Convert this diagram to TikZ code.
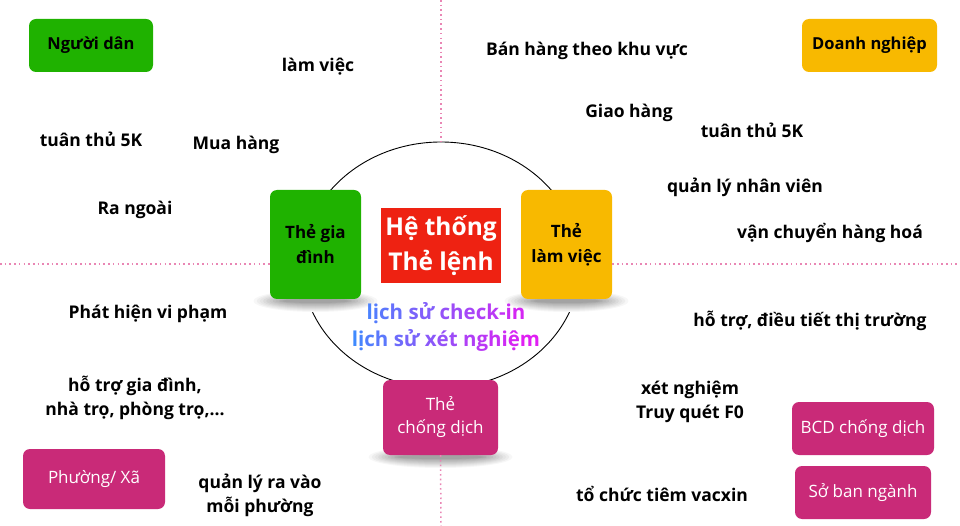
\documentclass[tikz,border=0pt]{standalone}
\usepackage{fontspec}
\setmainfont{Open Sans}
\usetikzlibrary{shapes.geometric}
\definecolor{cgreen}{HTML}{1FB200}
\definecolor{camber}{HTML}{F8B900}
\definecolor{cred}{HTML}{EE2212}
\definecolor{cmag}{HTML}{C92A78}
\definecolor{cpink}{HTML}{E986B4}
\definecolor{gb}{HTML}{3A8DFF}
\definecolor{gm}{HTML}{E51CF2}
\newcommand{\gch}[2]{\textcolor{gm!#1!gb}{#2}}
\newcommand{\softshadow}[3]{% center x, bottom y, half width
  \foreach \i in {10,...,1}{
    \pgfmathsetmacro{\sh}{int(3.6*(11-\i))}
    \fill[black!\sh] (#1,{#2+2}) ellipse ({#3+3.2*\i} and {1+1.0*\i});
  }}
\tikzset{
  card/.style={rounded corners=7pt, inner sep=0pt, align=center, text=black,
    font=\bfseries\fontsize{16.5}{25}\selectfont},
  wcard/.style={card, fill=cmag, text=white, font=\fontsize{17}{23}\selectfont},
  lbl/.style={inner sep=0pt, align=center, text=black,
    font=\bfseries\fontsize{17.5}{24}\selectfont},
  sep/.style={cpink, line width=1.5pt, dash pattern=on 1.6pt off 3.1pt}
}
\begin{document}
\begin{tikzpicture}[x=1pt,y=-1pt]
\useasboundingbox (0,0) rectangle (960,526);
% separators
\coordinate (vt) at (441,0);
\coordinate (vb) at (441,526);
\coordinate (hl) at (0,264);
\coordinate (hr) at (960,264);
% ring
\node[draw=black, line width=0.9pt, ellipse, minimum width=278pt, minimum height=246pt, inner sep=0pt] (ring) at (441,265) {};
\draw[sep] (vt) -- (ring.north);
% shadows
\softshadow{315.5}{299}{30}
\softshadow{566.5}{299}{30}
\softshadow{440.5}{455}{40}
% cards
\node[card, fill=cgreen, minimum width=124pt, minimum height=53pt] (dan) at (91,45.5) {Người dân};
\node[card, fill=camber, minimum width=135pt, minimum height=53pt] (dn) at (869.5,45.5) {Doanh nghiệp};
\node[card, fill=cgreen, minimum width=91pt, minimum height=109pt, font=\bfseries\fontsize{17}{25}\selectfont] (gd) at (315.5,244.5) {Thẻ gia\\đình};
\node[card, fill=camber, minimum width=91pt, minimum height=109pt, font=\bfseries\fontsize{17}{25}\selectfont] (lv) at (566.5,244.5) {Thẻ\\làm việc};
\node[fill=cred, inner sep=0pt, minimum width=120pt, minimum height=75pt, align=center, text=white,
  font=\bfseries\fontsize{24.5}{35}\selectfont] (ht) at (441,245.5) {Hệ thống\\Thẻ lệnh};
\node[wcard, minimum width=115pt, minimum height=75pt] (cd) at (440.5,417.5) {Thẻ\\chống dịch};
\node[wcard, minimum width=142pt, minimum height=60pt] (px) at (94,479) {Phường/ Xã};
\node[wcard, minimum width=142pt, minimum height=53pt] (bcd) at (863,428.5) {BCD chống dịch};
\node[wcard, minimum width=136pt, minimum height=53pt] (so) at (863,492.5) {Sở ban ngành};
% separators touching cards
\draw[sep] (cd.south) -- (vb);
\draw[sep] (hl) -- (gd.west |- hl);
\draw[sep] (lv.east |- hr) -- (hr);
% labels
\node[lbl] (t1) at (318,67) {làm việc};
\node[lbl] (t2) at (91,139) {tuân thủ 5K};
\node[lbl] (t3) at (236,145) {Mua hàng};
\node[lbl] (t4) at (135,210) {Ra ngoài};
\node[lbl] (t5) at (587,51) {Bán hàng theo khu vực};
\node[lbl] (t6) at (629,113) {Giao hàng};
\node[lbl] (t7) at (752,130) {tuân thủ 5K};
\node[lbl] (t8) at (745,187) {quản lý nhân viên};
\node[lbl] (t9) at (830,233) {vận chuyển hàng hoá};
\node[lbl] (t10) at (148,314) {Phát hiện vi phạm};
\node[lbl] (t11) at (135,398) {hỗ trợ gia đình,\\nhà trọ, phòng trọ,...};
\node[lbl] (t12) at (260,495) {quản lý ra vào\\mỗi phường};
\node[lbl] (t13) at (810,321) {hỗ trợ, điều tiết thị trường};
\node[lbl] (t14) at (690,402) {xét nghiệm\\Truy quét F0};
\node[lbl] (t15) at (662,494) {tổ chức tiêm vacxin};
\node[inner sep=0pt, align=center, font=\bfseries\fontsize{20.5}{27}\selectfont] (hist) at (446,327)
{\gch{10}{l}\gch{15}{ị}\gch{20}{c}\gch{26}{h} \gch{37}{s}\gch{42}{ử} \gch{53}{c}\gch{58}{h}\gch{63}{e}\gch{69}{c}\gch{74}{k}\gch{80}{-}\gch{85}{i}\gch{90}{n}\\
\gch{3}{l}\gch{8}{ị}\gch{14}{c}\gch{19}{h} \gch{30}{s}\gch{36}{ử} \gch{47}{x}\gch{53}{é}\gch{58}{t} \gch{69}{n}\gch{75}{g}\gch{81}{h}\gch{86}{i}\gch{91}{ệ}\gch{97}{m}};
\end{tikzpicture}
\end{document}
